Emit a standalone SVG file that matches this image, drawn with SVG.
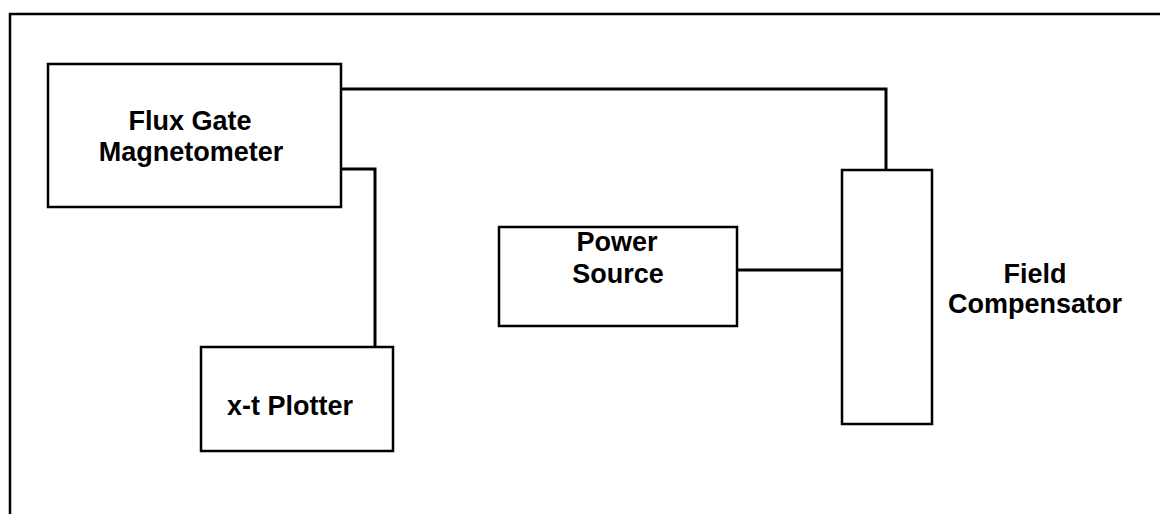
<svg xmlns="http://www.w3.org/2000/svg" width="1160" height="514" viewBox="0 0 1160 514">
  <style>
    .box { fill: #fff; stroke: #000; stroke-width: 2.5; }
    .wire { fill: none; stroke: #000; stroke-width: 3; }
    .frame { fill: none; stroke: #000; stroke-width: 2.5; }
    .label { font-family: "Liberation Sans", Arial, sans-serif; font-weight: bold; font-size: 27px; fill: #000; text-anchor: middle; }
  </style>
  <rect width="1160" height="514" fill="#fff"/>
  <!-- outer frame: left and top edges -->
  <path class="frame" d="M10,514 V14 H1160"/>

  <g id="connectors">
    <path class="wire" d="M341,89 H886 V170"/>
    <path class="wire" d="M341,169 H375 V348"/>
    <path class="wire" d="M737,270 H843"/>
  </g>

  <g id="flux-gate">
    <rect class="box" x="48" y="64" width="293" height="143"/>
    <text class="label" x="190" y="130">Flux Gate</text>
    <text class="label" x="191" y="161">Magnetometer</text>
  </g>

  <g id="plotter">
    <rect class="box" x="201" y="347" width="192" height="104"/>
    <text class="label" x="290" y="415">x-t Plotter</text>
  </g>

  <g id="power-source">
    <rect class="box" x="499" y="227" width="238" height="99"/>
    <text class="label" x="617" y="251">Power</text>
    <text class="label" x="618" y="283">Source</text>
  </g>

  <g id="field-compensator">
    <rect class="box" x="842" y="170" width="90" height="254"/>
    <text class="label" x="1035" y="283">Field</text>
    <text class="label" x="1035" y="313">Compensator</text>
  </g>
</svg>
